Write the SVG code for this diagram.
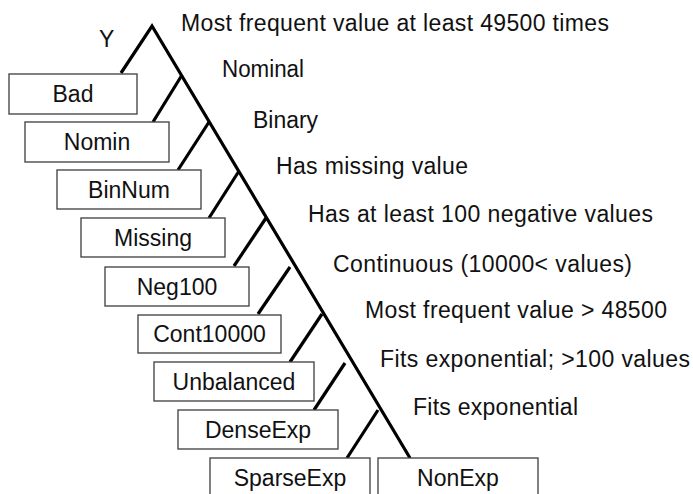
<svg xmlns="http://www.w3.org/2000/svg" width="693" height="494" viewBox="0 0 693 494">
  <style>
    .box { fill: #ffffff; stroke: #3c3c3c; stroke-width: 1.3; }
    .lbl { font-family: "Liberation Sans", Arial, sans-serif; font-size: 23px; fill: #111111; }
    .mid { text-anchor: middle; }
    .edge { fill: none; stroke: #000000; stroke-width: 3.2; stroke-linecap: butt; stroke-linejoin: miter; }
  </style>
  <rect x="0" y="0" width="693" height="494" fill="#ffffff"/>

  <g id="connectors">
    <path class="edge" d="M121,73 L152,26 L410,458"/>
    <path class="edge" d="M182,75 L153,122"/>
    <path class="edge" d="M209,122 L178,170"/>
    <path class="edge" d="M239,171 L209,218"/>
    <path class="edge" d="M266,218 L234,266"/>
    <path class="edge" d="M290,267 L258,314"/>
    <path class="edge" d="M322,314 L290,362"/>
    <path class="edge" d="M345,363 L314,410"/>
    <path class="edge" d="M378,410 L347,458"/>
  </g>

  <g id="labels">
    <text class="lbl" x="99" y="47">Y</text>
    <text class="lbl" x="181" y="31" textLength="428" lengthAdjust="spacing">Most frequent value at least 49500 times</text>
    <text class="lbl" x="222" y="77" textLength="82" lengthAdjust="spacingAndGlyphs">Nominal</text>
    <text class="lbl" x="253" y="128" textLength="65" lengthAdjust="spacingAndGlyphs">Binary</text>
    <text class="lbl" x="276" y="174" textLength="192" lengthAdjust="spacing">Has missing value</text>
    <text class="lbl" x="308" y="222" textLength="345" lengthAdjust="spacing">Has at least 100 negative values</text>
    <text class="lbl" x="333" y="272" textLength="299" lengthAdjust="spacing">Continuous (10000&lt; values)</text>
    <text class="lbl" x="365" y="318" textLength="302" lengthAdjust="spacing">Most frequent value &gt; 48500</text>
    <text class="lbl" x="380" y="367" textLength="310" lengthAdjust="spacing">Fits exponential; &gt;100 values</text>
    <text class="lbl" x="413" y="415" textLength="165" lengthAdjust="spacing">Fits exponential</text>
  </g>

  <g id="node-bad">
    <rect class="box" x="9" y="74" width="128" height="40"/>
    <text class="lbl mid" x="73" y="102">Bad</text>
  </g>
  <g id="node-nomin">
    <rect class="box" x="25" y="122" width="144" height="40"/>
    <text class="lbl mid" x="97" y="150">Nomin</text>
  </g>
  <g id="node-binnum">
    <rect class="box" x="57" y="170" width="144" height="39"/>
    <text class="lbl mid" x="129" y="198">BinNum</text>
  </g>
  <g id="node-missing">
    <rect class="box" x="81" y="218" width="144" height="39"/>
    <text class="lbl mid" x="153" y="246">Missing</text>
  </g>
  <g id="node-neg100">
    <rect class="box" x="105" y="267" width="144" height="39"/>
    <text class="lbl mid" x="177" y="295">Neg100</text>
  </g>
  <g id="node-cont10000">
    <rect class="box" x="138" y="315" width="143" height="38"/>
    <text class="lbl mid" x="209.5" y="342">Cont10000</text>
  </g>
  <g id="node-unbalanced">
    <rect class="box" x="154" y="362" width="160" height="39"/>
    <text class="lbl mid" x="234" y="390">Unbalanced</text>
  </g>
  <g id="node-denseexp">
    <rect class="box" x="178" y="410" width="160" height="39"/>
    <text class="lbl mid" x="258" y="438">DenseExp</text>
  </g>
  <g id="node-sparseexp">
    <rect class="box" x="210" y="458" width="160" height="50"/>
    <text class="lbl mid" x="290" y="486">SparseExp</text>
  </g>
  <g id="node-nonexp">
    <rect class="box" x="378" y="458" width="160" height="50"/>
    <text class="lbl mid" x="458" y="486">NonExp</text>
  </g>
</svg>
